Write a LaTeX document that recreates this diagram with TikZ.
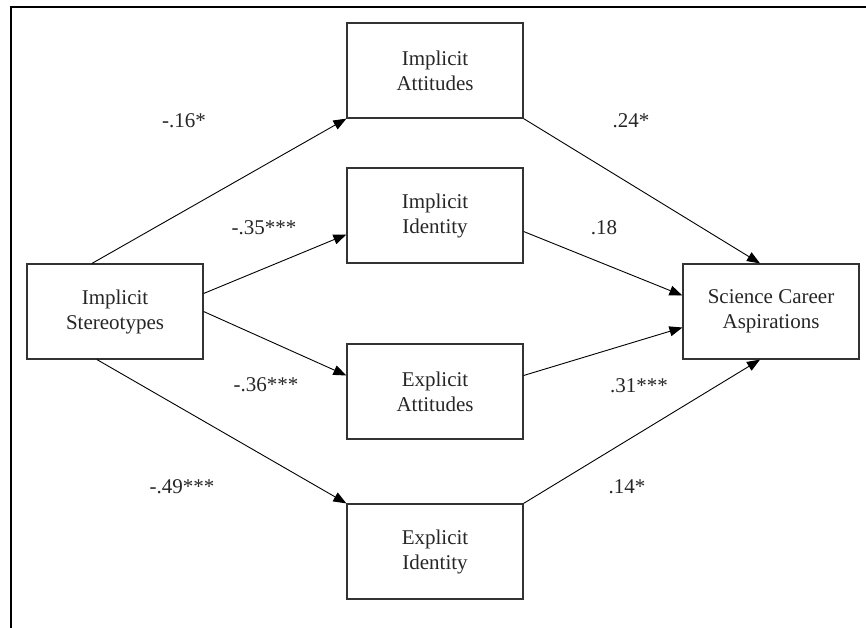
\documentclass[tikz,border=0pt]{standalone}
\usepackage{fontspec}
\setmainfont{Liberation Serif}
\usepackage{tikz}
\usetikzlibrary{arrows.meta,positioning}

\begin{document}
\begin{tikzpicture}[x=1pt,y=-1pt,>={Triangle[length=13pt,width=10pt]}
        ,box/.style = {draw=black!80,line width=1.2pt,rectangle,minimum width=176pt,
                       minimum height=95pt,align=center,text=black!85,font=\fontsize{21}{25}\selectfont}
        ,coef/.style = {text=black!85,font=\fontsize{21}{25}\selectfont}
        ,path/.style = {->,line width=0.9pt}
      ]
      \useasboundingbox (0,0) rectangle (866,628);
      \draw[line width=2.6pt] (11,628) -- (11,7) -- (866,7);

      % boxes
      \node[box](stereo) at (115,311.5) {Implicit\\Stereotypes};
      \node[box](impatt) at (435,70.5) {Implicit\\Attitudes};
      \node[box](impid) at (435,215.5) {Implicit\\Identity};
      \node[box](expatt) at (435,391.5) {Explicit\\Attitudes};
      \node[box](expid) at (435,551.5) {Explicit\\Identity};
      \node[box](career) at (771,311.5) {Science Career\\Aspirations};

      % paths
      \draw[path] ([xshift=-23pt]stereo.north) -- (impatt.south west);
      \draw[path] ([yshift=18pt]stereo.east) -- ([yshift=-19pt]impid.west);
      \draw[path] (stereo.east) -- ([yshift=16pt]expatt.west);
      \draw[path] ([xshift=-18pt]stereo.south) -- (expid.north west);
      \draw[path] (impatt.south east) -- ([xshift=-11pt]career.north);
      \draw[path] ([yshift=-16pt]impid.east) -- ([yshift=16pt]career.west);
      \draw[path] ([yshift=16pt]expatt.east) -- ([yshift=-16pt]career.west);
      \draw[path] (expid.north east) -- ([xshift=-11pt]career.south);

      % coefficients
      \node[coef](c1) at (184,121) {-.16*};
      \node[coef](c2) at (264,228) {-.35***};
      \node[coef](c3) at (266,385) {-.36***};
      \node[coef](c4) at (182,487) {-.49***};
      \node[coef](c5) at (631,121) {.24*};
      \node[coef](c6) at (604,228) {.18};
      \node[coef](c7) at (639,386) {.31***};
      \node[coef](c8) at (627,487) {.14*};
\end{tikzpicture}
\end{document}
